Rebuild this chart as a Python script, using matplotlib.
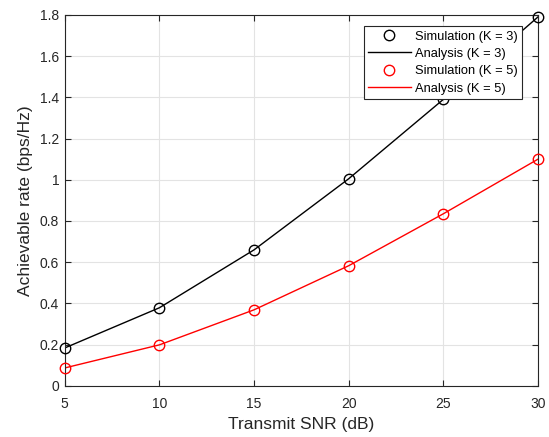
import matplotlib
matplotlib.use("Agg")
import matplotlib.pyplot as plt

snr = [5, 10, 15, 20, 25, 30]
rate_k3 = [0.184, 0.379, 0.660, 1.005, 1.390, 1.790]
rate_k5 = [0.087, 0.199, 0.369, 0.583, 0.835, 1.100]
xticks = [5, 10, 15, 20, 25, 30]
yticks = [0, 0.2, 0.4, 0.6, 0.8, 1.0, 1.2, 1.4, 1.6, 1.8]
yticklabels = ["0", "0.2", "0.4", "0.6", "0.8", "1", "1.2", "1.4", "1.6", "1.8"]

plt.rcParams['font.family'] = ['Liberation Sans', 'DejaVu Sans']

fig = plt.figure(figsize=(5.49, 4.37), dpi=100)
ax = fig.add_axes([0.118, 0.117, 0.862, 0.849])

ax.plot(snr, rate_k3, 'o', mfc='none', mec='black', ms=7.5, mew=1.0, label='Simulation (K = 3)', zorder=3, clip_on=False)
ax.plot(snr, rate_k3, '-', color='black', lw=1.0, label='Analysis (K = 3)', zorder=2)
ax.plot(snr, rate_k5, 'o', mfc='none', mec='red', ms=7.5, mew=1.0, label='Simulation (K = 5)', zorder=3, clip_on=False)
ax.plot(snr, rate_k5, '-', color='red', lw=1.0, label='Analysis (K = 5)', zorder=2)

ax.set_xlim(5, 30)
ax.set_ylim(0, 1.8)
ax.set_xticks(xticks)
ax.set_yticks(yticks)
ax.set_yticklabels(yticklabels)
ax.tick_params(direction='in', top=True, right=True, labelsize=10, colors='#262626', length=4.5)
ax.tick_params(axis='x', pad=8)
ax.tick_params(axis='y', pad=4)
ax.grid(True, color='#e3e3e3', lw=0.8)
ax.set_axisbelow(True)
for s in ax.spines.values():
    s.set_color('#262626')
    s.set_linewidth(0.8)

ax.set_xlabel('Transmit SNR (dB)', fontsize=12.5, color='#262626', labelpad=4)
ax.set_ylabel('Achievable rate (bps/Hz)', fontsize=12.5, color='#262626', labelpad=5)

leg = ax.legend(loc='upper right', bbox_to_anchor=(0.966, 0.97), fontsize=9.3, frameon=True,
                fancybox=False, edgecolor='#262626', framealpha=1, borderpad=0.35,
                handlelength=3.3, labelspacing=0.42, handletextpad=0.3, borderaxespad=0)
leg.get_frame().set_linewidth(0.8)

fig.savefig('out.png', dpi=100)
